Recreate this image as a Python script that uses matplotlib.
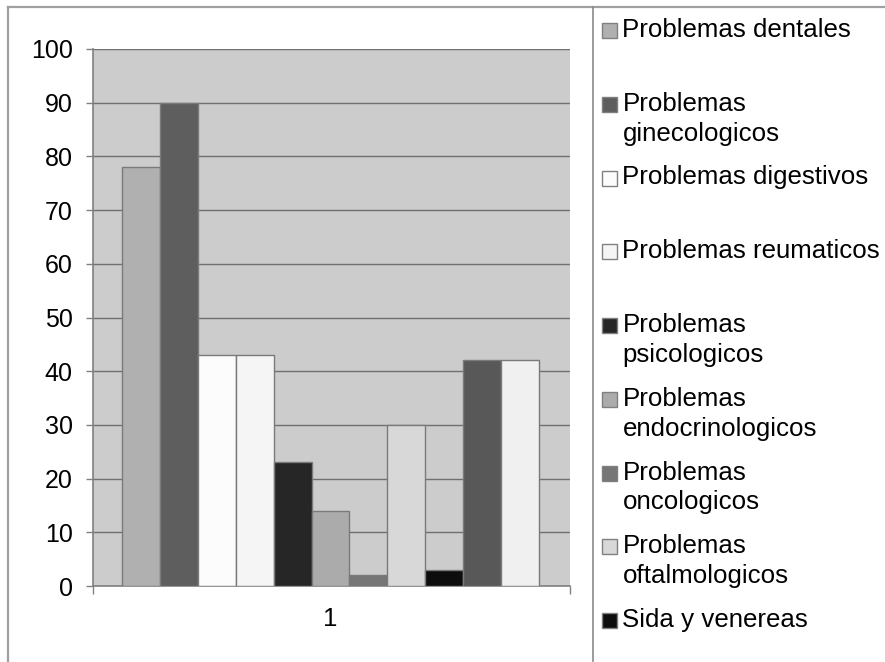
import numpy as np
import matplotlib
matplotlib.use("Agg")
import matplotlib.pyplot as plt
from matplotlib.patches import Rectangle
from matplotlib.lines import Line2D

plt.rcParams['font.family'] = ['Liberation Sans', 'DejaVu Sans']

# Series shown in the legend
legend_labels = [
    ["Problemas dentales"],
    ["Problemas", "ginecologicos"],
    ["Problemas digestivos"],
    ["Problemas reumaticos"],
    ["Problemas", "psicologicos"],
    ["Problemas", "endocrinologicos"],
    ["Problemas", "oncologicos"],
    ["Problemas", "oftalmologicos"],
    ["Sida y venereas"],
]

# Bar values (one group, category "1")
values = [78, 90, 43, 43, 23, 14, 2, 30, 3, 42, 42]
bar_colors = ['#b0b0b0', '#5e5e5e', '#fcfcfc', '#f5f5f5', '#262626', '#ababab',
              '#767676', '#d8d8d8', '#0d0d0d', '#585858', '#f0f0f0']
category_label = "1"
y_ticks = [0, 10, 20, 30, 40, 50, 60, 70, 80, 90, 100]

W, H = 885, 662
fig = plt.figure(figsize=(W / 100, H / 100), dpi=100)


def fx(x):
    return x / W


def fy(y):
    return 1 - y / H


# Plot area
left, right, top, bottom = 93, 570, 49, 586
ax = fig.add_axes([fx(left), fy(bottom), (right - left) / W, (bottom - top) / H])
ax.set_facecolor('#cccccc')

pos = np.arange(len(values))
ax.bar(pos, values, width=1.0, color=bar_colors, edgecolor='#7a7a7a',
       linewidth=1.0, zorder=3)

gap_l, gap_r = 29 / 38, 31 / 38
ax.set_xlim(-0.5 - gap_l, len(values) - 0.5 + gap_r)
ax.set_ylim(0, 100)
ax.set_yticks(y_ticks)
ax.yaxis.grid(True, color='#707070', linewidth=1.0, zorder=1)
ax.set_axisbelow(True)

ax.set_xticks([(len(values) - 1) / 2])
ax.set_xticklabels([category_label])
ax.set_xticks([-0.5 - gap_l, len(values) - 0.5 + gap_r], minor=True)
ax.tick_params(axis='x', which='major', length=0, pad=15, labelsize=18.5)
ax.tick_params(axis='x', which='minor', length=6, width=1, color='#808080',
               direction='out')
ax.tick_params(axis='y', length=5, width=1, color='#808080', pad=9.5,
               labelsize=18, direction='out')

for s in ['top', 'right']:
    ax.spines[s].set_visible(False)
for s in ['left', 'bottom']:
    ax.spines[s].set_color('#808080')
    ax.spines[s].set_linewidth(1.2)

# Outer frame and divider between plot and legend
fig.add_artist(Line2D([fx(8), 1.0], [fy(7), fy(7)], transform=fig.transFigure,
                      color='#a0a0a0', linewidth=1.6))
fig.add_artist(Line2D([fx(8), fx(8)], [fy(7), fy(662)], transform=fig.transFigure,
                      color='#a0a0a0', linewidth=1.6))
fig.add_artist(Line2D([fx(592.5), fx(592.5)], [fy(7), fy(661)],
                      transform=fig.transFigure, color='#8a8a8a', linewidth=1.2))

# Legend entries
base0, step, line_gap = 37, 73.75, 30
for i, lines in enumerate(legend_labels):
    base = base0 + i * step
    fig.add_artist(Rectangle((fx(602), fy(base + 1)), 15 / W, 15 / H,
                             transform=fig.transFigure, facecolor=bar_colors[i],
                             edgecolor='#808080', linewidth=1.0))
    for j, line in enumerate(lines):
        fig.text(fx(622.5), fy(base + j * line_gap), line, fontsize=18.6,
                 va='baseline', ha='left', color='black')

fig.savefig("out.png", dpi=100)
